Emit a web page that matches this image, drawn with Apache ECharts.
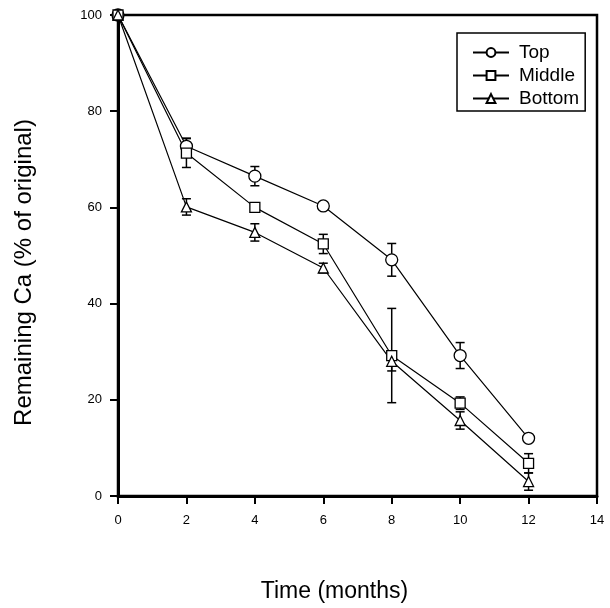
<!DOCTYPE html>
<html>
<head>
<meta charset="utf-8">
<script src="https://cdn.jsdelivr.net/npm/echarts@6/dist/echarts.min.js"></script>
<style>html,body{margin:0;padding:0;background:#fff}#c{width:610px;height:608px}</style>
</head>
<body>
<div id="c"></div>
<script>
const months = [0, 2, 4, 6, 8, 10, 12];
const topVals = [100, 72.7, 66.5, 60.3, 49.1, 29.2, 12.0];
const topErr  = [0, 1.7, 2.0, 0, 3.4, 2.7, 0];
const midVals = [100, 71.3, 60.0, 52.4, 29.2, 19.3, 6.8];
const midErr  = [0, 3.0, 0, 2.0, 9.8, 1.3, 2.0];
const botVals = [100, 60.1, 54.8, 47.4, 28.0, 15.7, 3.0];
const botErr  = [0, 1.7, 1.8, 1.0, 2.0, 1.8, 1.8];
const xTicks = [0, 2, 4, 6, 8, 10, 12, 14];
const yTicks = [0, 20, 40, 60, 80, 100];

const FONT = '"Liberation Sans", Arial, Helvetica, sans-serif';
const chart = echarts.init(document.getElementById('c'), null, {renderer: 'canvas'});

function errSeries(vals, errs) {
  return {
    type: 'custom',
    z: 1,
    silent: true,
    data: months.map((m, i) => [m, vals[i], errs[i]]),
    renderItem: function (params, api) {
      const x = api.value(0), y = api.value(1), e = api.value(2);
      if (!e) return null;
      const t = api.coord([x, y + e]);
      const b = api.coord([x, y - e]);
      const w = 4.5;
      const st = {stroke: '#000', lineWidth: 1.5};
      return {
        type: 'group',
        children: [
          {type: 'line', shape: {x1: t[0], y1: t[1], x2: b[0], y2: b[1]}, style: st},
          {type: 'line', shape: {x1: t[0] - w, y1: t[1], x2: t[0] + w, y2: t[1]}, style: st},
          {type: 'line', shape: {x1: b[0] - w, y1: b[1], x2: b[0] + w, y2: b[1]}, style: st}
        ]
      };
    }
  };
}

function lineSeries(name, vals, symbol, size) {
  return {
    name: name,
    type: 'line',
    z: 3,
    data: months.map((m, i) => [m, vals[i]]),
    symbol: symbol,
    symbolSize: size,
    showAllSymbol: true,
    lineStyle: {color: '#000', width: 1.2},
    itemStyle: {color: '#fff', borderColor: '#000', borderWidth: 1.3},
    emphasis: {disabled: true}
  };
}

chart.setOption({
  animation: false,
  backgroundColor: '#fff',
  grid: {left: 118, right: 13, top: 15, bottom: 110, show: true, borderColor: '#000', borderWidth: 2.5, backgroundColor: 'transparent'},
  legend: {
    orient: 'vertical',
    left: 457, top: 33,
    padding: [10, 6, 3, 15],
    itemGap: 4,
    itemWidth: 36, itemHeight: 11,
    borderColor: '#000', borderWidth: 1.5,
    backgroundColor: '#fff',
    textStyle: {fontFamily: FONT, fontSize: 19, color: '#000', padding: [0, 0, 0, 5]},
    data: ['Top', 'Middle', 'Bottom']
  },
  xAxis: {
    type: 'value', min: 0, max: 14, interval: 2,
    name: 'Time (months)', nameLocation: 'middle', nameGap: 84,
    nameTextStyle: {fontFamily: FONT, fontSize: 23, color: '#000', padding: [0, 46, 0, 0]},
    axisLine: {show: true, lineStyle: {color: '#000', width: 3}},
    axisTick: {show: true, inside: false, length: 8, lineStyle: {color: '#000', width: 2}},
    axisLabel: {margin: 18, fontFamily: FONT, fontSize: 13, color: '#000',
      formatter: v => xTicks.includes(v) ? String(v) : ''},
    splitLine: {show: false}
  },
  yAxis: {
    type: 'value', min: 0, max: 100, interval: 20,
    name: 'Remaining Ca (% of original)', nameLocation: 'middle', nameGap: 82, nameRotate: 90,
    nameTextStyle: {fontFamily: FONT, fontSize: 24, color: '#000', padding: [0, 34, 0, 0]},
    axisLine: {show: true, lineStyle: {color: '#000', width: 3}},
    axisTick: {show: true, inside: false, length: 8, lineStyle: {color: '#000', width: 2}},
    axisLabel: {margin: 16, fontFamily: FONT, fontSize: 13, color: '#000',
      formatter: v => yTicks.includes(v) ? String(v) : ''},
    splitLine: {show: false}
  },
  series: [
    errSeries(topVals, topErr),
    errSeries(midVals, midErr),
    errSeries(botVals, botErr),
    lineSeries('Top', topVals, 'circle', 12),
    lineSeries('Middle', midVals, 'rect', 10),
    lineSeries('Bottom', botVals, 'triangle', 10)
  ]
});
</script>
</body>
</html>
